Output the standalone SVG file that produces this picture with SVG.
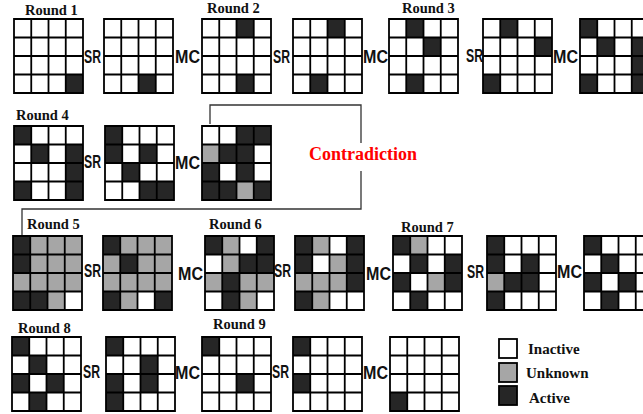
<svg xmlns="http://www.w3.org/2000/svg" xmlns:xlink="http://www.w3.org/1999/xlink" width="643" height="414" viewBox="0 0 643 414">
<style>
.b{fill:#262626}
.g{fill:#a6a6a6}
.gl{fill:#fff;stroke:#000;stroke-width:1.8}
.rd{font-family:"Liberation Serif","Times New Roman",serif;font-weight:bold;font-size:14.5px;fill:#111}
.op{font-family:"Liberation Sans",Arial,sans-serif;font-weight:bold;font-size:18px;fill:#111}
.lg{font-family:"Liberation Serif","Times New Roman",serif;font-weight:bold;font-size:15px;fill:#111}
.ct{font-family:"Liberation Serif","Times New Roman",serif;font-weight:bold;font-size:18px;fill:#ff0000}
.cn{fill:none;stroke:#333;stroke-width:1.3}
</style>
<defs>
<rect id="bg" width="69" height="74" fill="#fff"/>
<path id="gridlines" d="M0,0H69V74H0Z M17.25,0V74 M34.5,0V74 M51.75,0V74 M0,18.5H69 M0,37H69 M0,55.5H69" fill="none" stroke="#000" stroke-width="1.8"/>
<rect id="B" width="17.25" height="18.5" class="b"/>
<rect id="G" width="17.25" height="18.5" class="g"/>
</defs>
<rect width="643" height="414" fill="#fff"/>

<g id="connectors">
<path class="cn" d="M210,124V105H361V143 M361,171V209H22V235"/>
</g>

<g id="labels">
<text class="rd" x="25" y="15">Round 1</text>
<text class="rd" x="207" y="13">Round 2</text>
<text class="rd" x="402" y="13">Round 3</text>
<text class="rd" x="16" y="120">Round 4</text>
<text class="rd" x="27" y="229">Round 5</text>
<text class="rd" x="209" y="229">Round 6</text>
<text class="rd" x="401" y="232">Round 7</text>
<text class="rd" x="18" y="333">Round 8</text>
<text class="rd" x="213" y="329">Round 9</text>
<text class="ct" x="309" y="160">Contradiction</text>
</g>

<g id="ops">
<text class="op" x="84" y="63" textLength="17" lengthAdjust="spacingAndGlyphs">SR</text>
<text class="op" x="175" y="63" textLength="25" lengthAdjust="spacingAndGlyphs">MC</text>
<text class="op" x="273" y="63" textLength="17" lengthAdjust="spacingAndGlyphs">SR</text>
<text class="op" x="363" y="63" textLength="25" lengthAdjust="spacingAndGlyphs">MC</text>
<text class="op" x="466" y="62" textLength="17" lengthAdjust="spacingAndGlyphs">SR</text>
<text class="op" x="553" y="63" textLength="25" lengthAdjust="spacingAndGlyphs">MC</text>
<text class="op" x="84" y="168" textLength="17" lengthAdjust="spacingAndGlyphs">SR</text>
<text class="op" x="175" y="169" textLength="25" lengthAdjust="spacingAndGlyphs">MC</text>
<text class="op" x="84" y="277" textLength="17" lengthAdjust="spacingAndGlyphs">SR</text>
<text class="op" x="178" y="280" textLength="25" lengthAdjust="spacingAndGlyphs">MC</text>
<text class="op" x="274" y="277" textLength="17" lengthAdjust="spacingAndGlyphs">SR</text>
<text class="op" x="366" y="280" textLength="25" lengthAdjust="spacingAndGlyphs">MC</text>
<text class="op" x="467" y="278" textLength="17" lengthAdjust="spacingAndGlyphs">SR</text>
<text class="op" x="557" y="278" textLength="25" lengthAdjust="spacingAndGlyphs">MC</text>
<text class="op" x="83" y="378" textLength="17" lengthAdjust="spacingAndGlyphs">SR</text>
<text class="op" x="175" y="379" textLength="25" lengthAdjust="spacingAndGlyphs">MC</text>
<text class="op" x="272" y="378" textLength="17" lengthAdjust="spacingAndGlyphs">SR</text>
<text class="op" x="363" y="379" textLength="25" lengthAdjust="spacingAndGlyphs">MC</text>
</g>

<!-- Row 1 -->
<g id="r1g1" transform="translate(14,19)"><use href="#bg"/>
<use href="#B" x="51.75" y="55.5"/>
<use href="#gridlines"/></g>
<g id="r1g2" transform="translate(104,19)"><use href="#bg"/>
<use href="#B" x="34.5" y="55.5"/>
<use href="#gridlines"/></g>
<g id="r1g3" transform="translate(202,19)"><use href="#bg"/>
<use href="#B" x="34.5" y="0"/><use href="#B" x="34.5" y="55.5"/>
<use href="#gridlines"/></g>
<g id="r1g4" transform="translate(293,19)"><use href="#bg"/>
<use href="#B" x="34.5" y="0"/><use href="#B" x="17.25" y="55.5"/>
<use href="#gridlines"/></g>
<g id="r1g5" transform="translate(389,19)"><use href="#bg"/>
<use href="#B" x="17.25" y="0"/><use href="#B" x="34.5" y="18.5"/><use href="#B" x="17.25" y="55.5"/>
<use href="#gridlines"/></g>
<g id="r1g6" transform="translate(483,19)"><use href="#bg"/>
<use href="#B" x="17.25" y="0"/><use href="#B" x="51.75" y="18.5"/><use href="#B" x="0" y="55.5"/>
<use href="#gridlines"/></g>
<g id="r1g7" transform="translate(580,19)"><use href="#bg"/>
<use href="#B" x="0" y="0"/><use href="#B" x="17.25" y="18.5"/><use href="#B" x="51.75" y="18.5"/>
<use href="#B" x="51.75" y="37"/><use href="#B" x="0" y="55.5"/><use href="#B" x="51.75" y="55.5"/>
<use href="#gridlines"/></g>

<!-- Row 2 -->
<g id="r2g1" transform="translate(14,126)"><use href="#bg"/>
<use href="#B" x="0" y="0"/><use href="#B" x="17.25" y="18.5"/><use href="#B" x="51.75" y="18.5"/>
<use href="#B" x="51.75" y="37"/><use href="#B" x="0" y="55.5"/><use href="#B" x="51.75" y="55.5"/>
<use href="#gridlines"/></g>
<g id="r2g2" transform="translate(105,126)"><use href="#bg"/>
<use href="#B" x="0" y="0"/><use href="#B" x="0" y="18.5"/><use href="#B" x="34.5" y="18.5"/>
<use href="#B" x="17.25" y="37"/><use href="#B" x="34.5" y="55.5"/><use href="#B" x="51.75" y="55.5"/>
<use href="#gridlines"/></g>
<g id="r2g3" transform="translate(202,126)"><use href="#bg"/>
<use href="#B" x="34.5" y="0"/><use href="#B" x="51.75" y="0"/>
<use href="#G" x="0" y="18.5"/><use href="#B" x="17.25" y="18.5"/><use href="#B" x="34.5" y="18.5"/>
<use href="#B" x="0" y="37"/><use href="#B" x="34.5" y="37"/>
<use href="#B" x="0" y="55.5"/><use href="#B" x="17.25" y="55.5"/><use href="#G" x="34.5" y="55.5"/><use href="#B" x="51.75" y="55.5"/>
<use href="#gridlines"/></g>

<!-- Row 3 -->
<g id="r3g1" transform="translate(13,236)"><use href="#bg"/>
<use href="#B" x="0" y="0"/><use href="#G" x="17.25" y="0"/><use href="#G" x="34.5" y="0"/><use href="#G" x="51.75" y="0"/>
<use href="#B" x="0" y="18.5"/><use href="#G" x="17.25" y="18.5"/><use href="#G" x="34.5" y="18.5"/><use href="#G" x="51.75" y="18.5"/>
<use href="#G" x="0" y="37"/><use href="#G" x="17.25" y="37"/><use href="#G" x="34.5" y="37"/><use href="#G" x="51.75" y="37"/>
<use href="#B" x="0" y="55.5"/><use href="#B" x="17.25" y="55.5"/><use href="#G" x="34.5" y="55.5"/>
<use href="#gridlines"/></g>
<g id="r3g2" transform="translate(103,236)"><use href="#bg"/>
<use href="#B" x="0" y="0"/><use href="#G" x="17.25" y="0"/><use href="#G" x="34.5" y="0"/><use href="#G" x="51.75" y="0"/>
<use href="#G" x="0" y="18.5"/><use href="#B" x="17.25" y="18.5"/><use href="#G" x="34.5" y="18.5"/><use href="#G" x="51.75" y="18.5"/>
<use href="#G" x="0" y="37"/><use href="#G" x="17.25" y="37"/><use href="#G" x="34.5" y="37"/><use href="#G" x="51.75" y="37"/>
<use href="#B" x="0" y="55.5"/><use href="#G" x="17.25" y="55.5"/><use href="#B" x="51.75" y="55.5"/>
<use href="#gridlines"/></g>
<g id="r3g3" transform="translate(205,236)"><use href="#bg"/>
<use href="#B" x="0" y="0"/><use href="#G" x="17.25" y="0"/><use href="#B" x="51.75" y="0"/>
<use href="#G" x="17.25" y="18.5"/><use href="#B" x="34.5" y="18.5"/><use href="#B" x="51.75" y="18.5"/>
<use href="#G" x="0" y="37"/><use href="#B" x="17.25" y="37"/><use href="#G" x="34.5" y="37"/><use href="#G" x="51.75" y="37"/>
<use href="#B" x="17.25" y="55.5"/><use href="#G" x="34.5" y="55.5"/>
<use href="#gridlines"/></g>
<g id="r3g4" transform="translate(295,236)"><use href="#bg"/>
<use href="#B" x="0" y="0"/><use href="#G" x="17.25" y="0"/><use href="#B" x="51.75" y="0"/>
<use href="#B" x="0" y="18.5"/><use href="#G" x="34.5" y="18.5"/><use href="#B" x="51.75" y="18.5"/>
<use href="#G" x="0" y="37"/><use href="#G" x="17.25" y="37"/><use href="#G" x="34.5" y="37"/><use href="#B" x="51.75" y="37"/>
<use href="#B" x="0" y="55.5"/><use href="#G" x="17.25" y="55.5"/>
<use href="#gridlines"/></g>
<g id="r3g5" transform="translate(393,236)"><use href="#bg"/>
<use href="#B" x="0" y="0"/><use href="#G" x="17.25" y="0"/>
<use href="#B" x="17.25" y="18.5"/><use href="#B" x="51.75" y="18.5"/>
<use href="#B" x="0" y="37"/><use href="#G" x="34.5" y="37"/><use href="#B" x="51.75" y="37"/>
<use href="#B" x="17.25" y="55.5"/>
<use href="#gridlines"/></g>
<g id="r3g6" transform="translate(487,236)"><use href="#bg"/>
<use href="#B" x="0" y="0"/>
<use href="#B" x="0" y="18.5"/><use href="#B" x="34.5" y="18.5"/>
<use href="#G" x="0" y="37"/><use href="#B" x="17.25" y="37"/><use href="#B" x="34.5" y="37"/>
<use href="#B" x="0" y="55.5"/>
<use href="#gridlines"/></g>
<g id="r3g7" transform="translate(584,236)"><use href="#bg"/>
<use href="#B" x="0" y="0"/>
<use href="#B" x="17.25" y="18.5"/>
<use href="#B" x="0" y="37"/><use href="#B" x="34.5" y="37"/>
<use href="#B" x="17.25" y="55.5"/>
<use href="#gridlines"/></g>

<!-- Row 4 -->
<g id="r4g1" transform="translate(12,337)"><use href="#bg"/>
<use href="#B" x="0" y="0"/>
<use href="#B" x="17.25" y="18.5"/>
<use href="#B" x="0" y="37"/><use href="#B" x="34.5" y="37"/>
<use href="#B" x="17.25" y="55.5"/>
<use href="#gridlines"/></g>
<g id="r4g2" transform="translate(106,337)"><use href="#bg"/>
<use href="#B" x="0" y="0"/>
<use href="#B" x="34.5" y="18.5"/>
<use href="#B" x="0" y="37"/><use href="#B" x="34.5" y="37"/>
<use href="#B" x="0" y="55.5"/>
<use href="#gridlines"/></g>
<g id="r4g3" transform="translate(202,337)"><use href="#bg"/>
<use href="#B" x="0" y="0"/><use href="#B" x="34.5" y="37"/>
<use href="#gridlines"/></g>
<g id="r4g4" transform="translate(293,337)"><use href="#bg"/>
<use href="#B" x="0" y="0"/><use href="#B" x="0" y="37"/>
<use href="#gridlines"/></g>
<g id="r4g5" transform="translate(390,337)"><use href="#bg"/>
<use href="#B" x="0" y="55.5"/>
<use href="#gridlines"/></g>

<!-- Legend -->
<g id="legend">
<rect x="499" y="339" width="18" height="19" fill="#fff" stroke="#000" stroke-width="1.8"/>
<rect x="499" y="363" width="18" height="19" class="g" stroke="#000" stroke-width="1.8"/>
<rect x="499" y="386" width="18" height="19" class="b" stroke="#000" stroke-width="1.8"/>
<text class="lg" x="528" y="354">Inactive</text>
<text class="lg" x="526" y="378">Unknown</text>
<text class="lg" x="529" y="403">Active</text>
</g>
</svg>
